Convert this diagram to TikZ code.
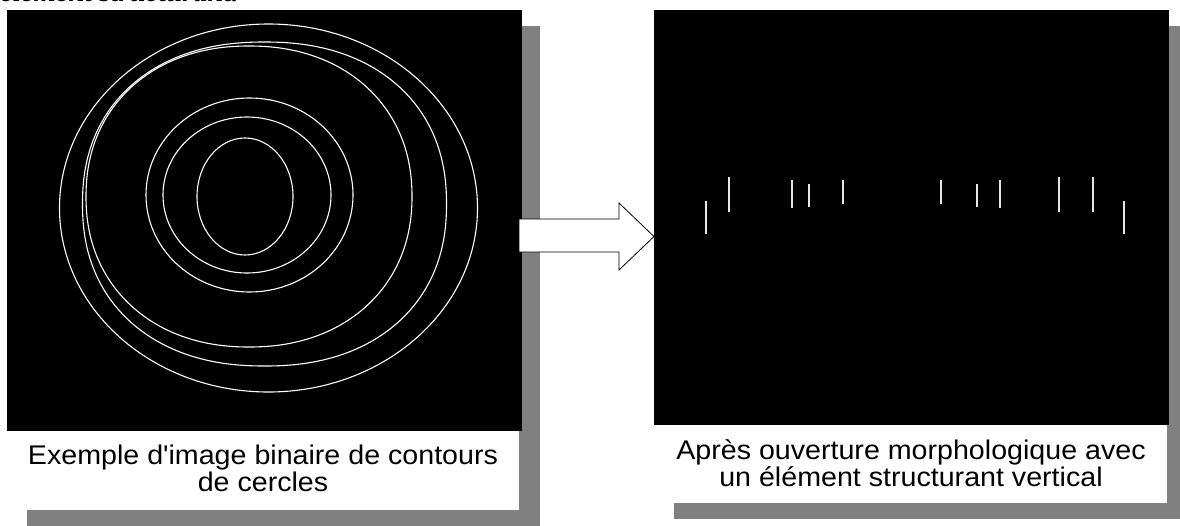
\documentclass[tikz,border=0pt]{standalone}
\usepackage{fontspec}
\setmainfont{Liberation Sans}
\newfontfamily\capfont{Liberation Sans}[FakeStretch=1.06]
\newfontfamily\bodyfont{Liberation Serif}[FakeStretch=1.06]
\definecolor{shadowgray}{HTML}{808080}
\definecolor{barwhite}{HTML}{E6E6E6}

\begin{document}
\begin{tikzpicture}[x=1pt,y=-1pt,
  shadowbox/.style={fill=shadowgray},
  ring/.style={draw=white, line width=1.1pt},
  bar/.style={draw=barwhite, line width=1.8pt},
  captext/.style={font=\capfont\fontsize{27}{27}\selectfont, anchor=base, inner sep=0pt},
  arrowshape/.style={draw=black, fill=white, line width=0.8pt, line join=miter},
]
\useasboundingbox (0,0) rectangle (1180,525);

% running text of the page, cut by the top edge
\begin{scope}
  \clip (0,0) rectangle (1180,525);
  \node[font=\bodyfont\bfseries\itshape\fontsize{27}{27}\selectfont,
        anchor=base west, inner sep=0pt] (runtext) at (0,1) {élément structurant.};
\end{scope}

% ---------- left panel: contour image ----------
\fill[shadowbox] (27,26) rectangle (540,526);
\fill[black] (7,10) rectangle (522,431);
\fill[white] (7,431) rectangle (519,510);

\begin{scope}
  \clip (7,10) rectangle (522,431);
  % outer contours
  \draw[ring] (268.5,208) ellipse [x radius=209, y radius=184];
  % slightly squared contours: exponent 2/n - 1 on |cos|, |sin|
  \draw[ring] plot[smooth cycle, domain=1.5:358.5, samples=120, variable=\t]
    ({264.5 + 182*cos(\t)*abs(cos(\t))^(-0.1)},
     {204 - 162*sin(\t)*abs(sin(\t))^(-0.1)});
  \draw[ring] plot[smooth cycle, domain=1.5:358.5, samples=120, variable=\t]
    ({249 + 163*cos(\t)*abs(cos(\t))^(-0.07)},
     {196.5 - 150.5*sin(\t)*abs(sin(\t))^(-0.07)});
  % inner contours
  \draw[ring] (249.5,195) ellipse [x radius=103.5, y radius=97];
  \draw[ring] (247,195) ellipse [x radius=84, y radius=78];
  \draw[ring] (245,196.5) ellipse [x radius=48, y radius=58.5];
\end{scope}

\node[captext] (capL1) at (263,464) {Exemple d'image binaire de contours};
\node[captext] (capL2) at (263,491) {de cercles};

% ---------- arrow between the panels ----------
\draw[arrowshape] (519,219) -- (619,219) -- (619,203) -- (654,236.5)
  -- (619,270) -- (619,252) -- (519,252) -- cycle;

% ---------- right panel: after opening ----------
\fill[shadowbox] (674,26) rectangle (1190,519);
\fill[black] (654,10) rectangle (1169,425);
\fill[white] (654,425) rectangle (1167,503);

\foreach \x/\ya/\yb in {706.3/201/234, 729.3/177/212, 792.3/180/208,
    809.3/184/207, 843.3/180/204, 940.7/180/204, 977/184/207, 1000/180/208,
    1059/177/212, 1093.3/177/212, 1124/201/234}
  \draw[bar] (\x,\ya) -- (\x,\yb);

\node[captext] (capR1) at (911,459) {Après ouverture morphologique avec};
\node[captext] (capR2) at (911,486) {un élément structurant vertical};
\end{tikzpicture}
\end{document}
